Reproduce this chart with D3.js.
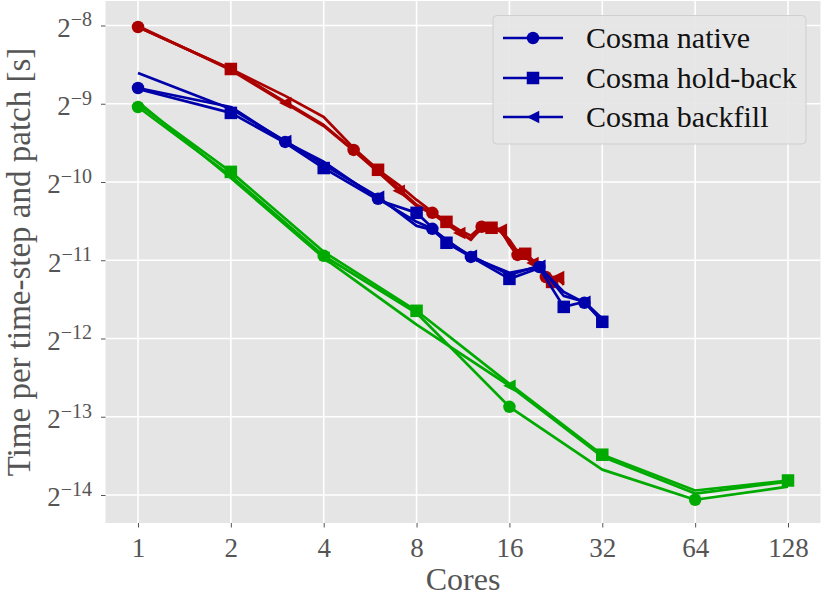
<!DOCTYPE html>
<html>
<head>
<meta charset="utf-8">
<script src="https://cdn.jsdelivr.net/npm/d3@7"></script>
<style>
  body { margin: 0; background: #fff; }
  svg { display: block; }
</style>
</head>
<body>
<div id="chart"></div>
<script>
// Time per time-step and patch [s] versus number of cores (log2 / log2)

// ---- data (times in seconds) ----
var redCores = [1, 2, 3, 4, 5, 6, 7, 8, 9, 10, 11, 12, 13, 14, 15, 16, 17, 18, 19, 20, 21, 22, 23, 24]
var redNative = [0.003855, 0.002657, 0.001985, 0.001619, 0.001297, 0.001088, 0.000919, 0.000798,
                 0.000743, 0.000686, 0.000628, 0.000585, 0.000657, 0.000651, 0.000628, 0.000570,
                 0.000512, 0.000512, 0.000481, 0.000452, 0.000421, 0.000407, 0.000410, 0.000396]
var redHold = [0.003855, 0.002657, 0.002094, 0.001736, 0.001320, 0.001088, 0.000952, 0.000833,
               0.000749, 0.000686, 0.000639, 0.000607, 0.000662, 0.000651, 0.000633, 0.000585,
               0.000526, 0.000517, 0.000490, 0.000456, 0.000425, 0.000403, 0.000414, 0.000399]
var redBack = [0.003890, 0.002633, 0.001965, 0.001604, 0.001287, 0.001068, 0.000903, 0.000790,
               0.000737, 0.000674, 0.000622, 0.000590, 0.000645, 0.000657, 0.000639, 0.000560,
               0.000508, 0.000503, 0.000477, 0.000448, 0.000418, 0.000410, 0.000421, 0.000392]
var redNativeMarks = [1, 5, 9, 13, 17, 21]
var redHoldMarks = [2, 6, 10, 14, 18, 22]
var redBackMarks = [3, 7, 11, 15, 19, 23]

var blueCores = [1, 2, 3, 4, 6, 8, 9, 10, 12, 16, 20, 24, 28, 32]
var blueNative = [0.002246, 0.001898, 0.001393, 0.001168, 0.000841, 0.000686, 0.000645,
                  0.000585, 0.000503, 0.000437, 0.000460, 0.000369, 0.000335, 0.000288]
var blueHold = [0.002226, 0.001801, 0.001381, 0.001105, 0.000833, 0.000743, 0.000651,
                0.000570, 0.000503, 0.000414, 0.000456, 0.000323, 0.000338, 0.000283]
var blueBack = [0.002566, 0.001865, 0.001404, 0.001137, 0.000857, 0.000662, 0.000639,
                0.000575, 0.000508, 0.000429, 0.000465, 0.000356, 0.000338, 0.000291]
var blueNativeMarks = [1, 3, 6, 9, 12, 20, 28]
var blueHoldMarks = [2, 4, 8, 10, 16, 24, 32]
var blueBackMarks = [3, 6, 12, 20, 28]

var greenCores = [1, 2, 4, 8, 16, 32, 64, 128]
var greenNative = [0.001898, 0.001031, 0.000508, 0.000306, 0.0001333, 0.0000764, 0.0000585, 0.0000657]
var greenHold = [0.001949, 0.001068, 0.000526, 0.000312, 0.0001633, 0.0000872, 0.0000635, 0.0000694]
var greenBack = [0.001985, 0.001012, 0.000499, 0.000276, 0.0001606, 0.0000857, 0.0000618, 0.0000687]
var greenNativeMarks = [1, 4, 16, 64]
var greenHoldMarks = [2, 8, 32, 128]
var greenBackMarks = [4, 16]

var xTicks = [1, 2, 4, 8, 16, 32, 64, 128]
var yTickExp = [-8, -9, -10, -11, -12, -13, -14]
var legendLabels = ["Cosma native", "Cosma hold-back", "Cosma backfill"]

// ---- layout ----
var width = 822
var height = 596
var L = 105.5, R = 820.5, T = 1, B = 523
var font = "'Liberation Serif', 'Times New Roman', serif"
var red = "#aa0000", blue = "#0000aa", green = "#00aa00"

var series = [
  { color: red, shape: "circle", cores: redCores, times: redNative, marks: redNativeMarks },
  { color: red, shape: "square", cores: redCores, times: redHold, marks: redHoldMarks },
  { color: red, shape: "triangle", cores: redCores, times: redBack, marks: redBackMarks },
  { color: green, shape: "circle", cores: greenCores, times: greenNative, marks: greenNativeMarks },
  { color: green, shape: "square", cores: greenCores, times: greenHold, marks: greenHoldMarks },
  { color: green, shape: "triangle", cores: greenCores, times: greenBack, marks: greenBackMarks },
  { color: blue, shape: "circle", cores: blueCores, times: blueNative, marks: blueNativeMarks },
  { color: blue, shape: "square", cores: blueCores, times: blueHold, marks: blueHoldMarks },
  { color: blue, shape: "triangle", cores: blueCores, times: blueBack, marks: blueBackMarks }
]

var svg = d3.select("#chart").append("svg")
  .attr("width", width)
  .attr("height", height)

var x = d3.scaleLog().base(2)
  .domain([Math.pow(2, -0.35), Math.pow(2, 7.35)])
  .range([L, R])
var y = d3.scaleLog().base(2)
  .domain([Math.pow(2, -14.358), Math.pow(2, -7.687)])
  .range([B, T])

// background panel
svg.append("rect")
  .attr("x", L).attr("y", T)
  .attr("width", R - L).attr("height", B - T)
  .attr("fill", "#e5e5e5")

// grid
var yTicks = yTickExp.map(function (e) { return Math.pow(2, e) })
svg.append("g").selectAll("line").data(xTicks).enter().append("line")
  .attr("x1", function (d) { return x(d) }).attr("x2", function (d) { return x(d) })
  .attr("y1", T).attr("y2", B)
  .attr("stroke", "#fff").attr("stroke-width", 1.6)
svg.append("g").selectAll("line").data(yTicks).enter().append("line")
  .attr("x1", L).attr("x2", R)
  .attr("y1", function (d) { return y(d) }).attr("y2", function (d) { return y(d) })
  .attr("stroke", "#fff").attr("stroke-width", 1.6)

// axes
var gx = svg.append("g")
  .attr("transform", "translate(0," + B + ")")
  .call(d3.axisBottom(x).tickValues(xTicks).tickFormat(d3.format("d")).tickSize(4.5).tickPadding(10))
gx.select(".domain").remove()
gx.selectAll("line").attr("stroke", "#555")
gx.selectAll("text")
  .attr("font-family", font).attr("font-size", 27).attr("fill", "#555")

var gy = svg.append("g")
  .attr("transform", "translate(" + L + ",0)")
  .call(d3.axisLeft(y).tickValues(yTicks).tickFormat("").tickSize(4.5).tickPadding(9))
gy.select(".domain").remove()
gy.selectAll("line").attr("stroke", "#555")
gy.selectAll("text").each(function (d, i) {
  var t = d3.select(this)
    .attr("font-family", font).attr("fill", "#555")
    .attr("dy", null).attr("y", 11)
  t.append("tspan").attr("font-size", 27).text("2")
  t.append("tspan").attr("font-size", 20).attr("dy", -10.5).text("\u2212" + (-yTickExp[i]))
})

// axis labels
svg.append("text")
  .attr("x", (L + R) / 2).attr("y", 590)
  .attr("text-anchor", "middle")
  .attr("font-family", font).attr("font-size", 32).attr("fill", "#555")
  .text("Cores")
svg.append("text")
  .attr("transform", "translate(30," + ((T + B) / 2) + ") rotate(-90)")
  .attr("text-anchor", "middle")
  .attr("font-family", font).attr("font-size", 33).attr("fill", "#555")
  .text("Time per time-step and patch [s]")

// marker drawing helper
function drawMarker (g, shape, cx, cy, color, s) {
  var h = s / 2
  if (shape === "circle") {
    g.append("circle").attr("cx", cx).attr("cy", cy).attr("r", h).attr("fill", color)
  } else if (shape === "square") {
    g.append("rect").attr("x", cx - h).attr("y", cy - h).attr("width", s).attr("height", s).attr("fill", color)
  } else {
    g.append("path")
      .attr("d", "M" + (cx - h) + "," + cy + "L" + (cx + h) + "," + (cy - h) + "L" + (cx + h) + "," + (cy + h) + "Z")
      .attr("fill", color)
  }
}

// clip
svg.append("clipPath").attr("id", "clip")
  .append("rect").attr("x", L).attr("y", T).attr("width", R - L).attr("height", B - T)

var plot = svg.append("g").attr("clip-path", "url(#clip)")

var line = d3.line()
  .x(function (d) { return x(d[0]) })
  .y(function (d) { return y(d[1]) })

series.forEach(function (s) {
  var pts = s.cores.map(function (c, i) { return [c, s.times[i]] })
  var g = plot.append("g")
  g.append("path")
    .attr("d", line(pts))
    .attr("fill", "none")
    .attr("stroke", s.color)
    .attr("stroke-width", 2.7)
    .attr("stroke-linejoin", "round")
  pts.forEach(function (p) {
    if (s.marks.indexOf(p[0]) >= 0) drawMarker(g, s.shape, x(p[0]), y(p[1]), s.color, 12.5)
  })
})

// legend
var lg = svg.append("g")
lg.append("rect")
  .attr("x", 493).attr("y", 15.5)
  .attr("width", 313).attr("height", 128.5)
  .attr("rx", 4)
  .attr("fill", "#e6e6e6").attr("fill-opacity", 0.9)
  .attr("stroke", "#cfcfcf").attr("stroke-width", 1)
var shapes = ["circle", "square", "triangle"]
var rowY = [38, 78, 117]
legendLabels.forEach(function (lab, i) {
  lg.append("line")
    .attr("x1", 503).attr("x2", 563)
    .attr("y1", rowY[i]).attr("y2", rowY[i])
    .attr("stroke", blue).attr("stroke-width", 2.6)
  drawMarker(lg, shapes[i], 533, rowY[i], blue, 12.5)
  lg.append("text")
    .attr("x", 586).attr("y", rowY[i] + 10)
    .attr("font-family", font).attr("font-size", 30).attr("fill", "#111")
    .text(lab)
})
</script>
</body>
</html>
